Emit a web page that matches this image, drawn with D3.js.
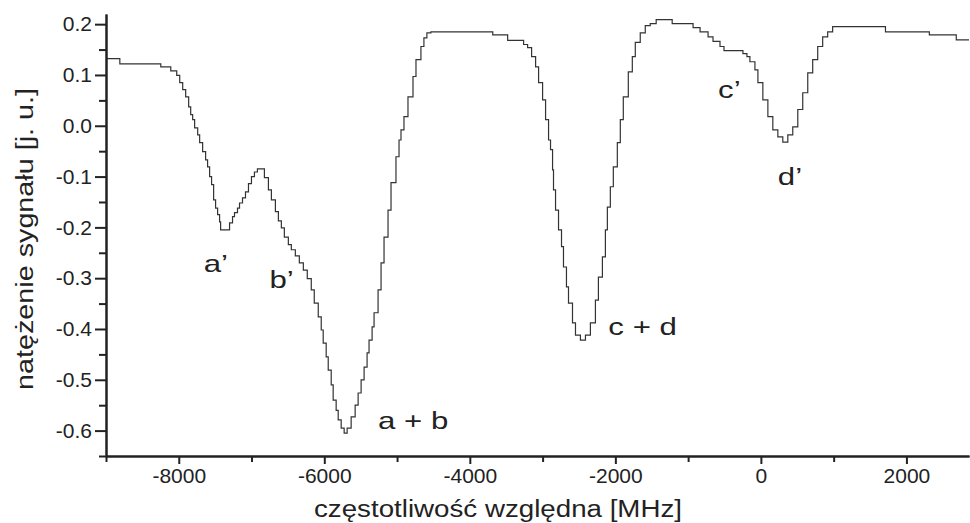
<!DOCTYPE html>
<html lang="pl">
<head>
    <meta charset="UTF-8">
    <title>Widmo</title>
    <style>
        body { margin: 0; background: #fff; }
        text { font-family: "Liberation Sans", Arial, sans-serif; fill: #222; }
        .line { fill: none; stroke: #333; stroke-width: 1.2px; }
        .axis path, .axis line { stroke: #222; stroke-width: 2px; }
        .axis text { font-size: 21px; fill: #222; }
        .title { font-size: 23px; }
        .note { font-size: 24px; }
    </style>
</head>
<body>
<script src="https://d3js.org/d3.v7.min.js"></script>
<script>
const freq = [-9000, -8810, -8247, -8110, -8028, -7987, -7946, -7905, -7864, -7836,
  -7809, -7782, -7740, -7713, -7672, -7631, -7604, -7576, -7549, -7521,
  -7494, -7466, -7439, -7425, -7330, -7302, -7261, -7234, -7193, -7165,
  -7124, -7083, -7042, -7001, -6960, -6919, -6850, -6823, -6768, -6727,
  -6672, -6631, -6590, -6549, -6494, -6453, -6398, -6343, -6288, -6234,
  -6179, -6138, -6083, -6042, -6015, -5974, -5946, -5905, -5878, -5837,
  -5809, -5768, -5727, -5686, -5631, -5576, -5535, -5494, -5453, -5412,
  -5385, -5343, -5316, -5261, -5220, -5179, -5124, -5083, -5015, -4973,
  -4946, -4905, -4850, -4781, -4740, -4672, -4631, -4590, -4535, -3685,
  -3480, -3261, -3206, -3151, -3096, -3055, -3000, -2959, -2918, -2891,
  -2863, -2850, -2822, -2781, -2740, -2713, -2672, -2644, -2589, -2548,
  -2480, -2411, -2343, -2274, -2233, -2178, -2137, -2110, -2069, -2028,
  -1973, -1932, -1891, -1822, -1767, -1726, -1658, -1589, -1521, -1439,
  -1219, -932, -836, -726, -658, -562, -507, -247, -192, -151,
  -82, -41, 27, 96, 164, 233, 301, 370, 438, 507,
  575, 644, 712, 781, 849, 918, 986, 1712, 2315, 2685,
  2860];

const signal = [0.132, 0.122, 0.116, 0.108, 0.099, 0.085, 0.071, 0.057, 0.037, 0.022,
  0.012, -0.004, -0.018, -0.033, -0.051, -0.067, -0.081, -0.100, -0.116, -0.146,
  -0.162, -0.175, -0.189, -0.205, -0.205, -0.191, -0.179, -0.171, -0.162, -0.152,
  -0.142, -0.130, -0.114, -0.100, -0.091, -0.085, -0.085, -0.102, -0.126, -0.146,
  -0.169, -0.187, -0.201, -0.219, -0.234, -0.244, -0.256, -0.270, -0.284, -0.301,
  -0.323, -0.349, -0.376, -0.402, -0.428, -0.455, -0.481, -0.510, -0.540, -0.560,
  -0.579, -0.595, -0.605, -0.595, -0.573, -0.550, -0.526, -0.500, -0.475, -0.447,
  -0.422, -0.396, -0.368, -0.323, -0.270, -0.219, -0.166, -0.112, -0.061, -0.028,
  -0.008, 0.018, 0.057, 0.097, 0.130, 0.156, 0.173, 0.183, 0.185, 0.179,
  0.168, 0.160, 0.154, 0.136, 0.116, 0.085, 0.051, 0.012, -0.028, -0.047,
  -0.087, -0.126, -0.166, -0.205, -0.238, -0.278, -0.317, -0.349, -0.388, -0.412,
  -0.422, -0.412, -0.388, -0.343, -0.298, -0.258, -0.205, -0.160, -0.120, -0.081,
  -0.033, 0.012, 0.057, 0.106, 0.136, 0.164, 0.183, 0.197, 0.201, 0.209,
  0.201, 0.193, 0.185, 0.175, 0.166, 0.156, 0.148, 0.142, 0.136, 0.126,
  0.110, 0.085, 0.051, 0.018, -0.008, -0.022, -0.032, -0.018, -0.002, 0.032,
  0.065, 0.104, 0.130, 0.156, 0.175, 0.185, 0.195, 0.185, 0.179, 0.169,
  0.169];

const xTicks = [-8000, -6000, -4000, -2000, 0, 2000];
const xMinor = [-9000, -7000, -5000, -3000, -1000, 1000];
const yTicks = [-0.6, -0.5, -0.4, -0.3, -0.2, -0.1, 0.0, 0.1, 0.2];
const yMinor = [-0.65, -0.55, -0.45, -0.35, -0.25, -0.15, -0.05, 0.05, 0.15];

// podpisy pików: [tekst, częstotliwość, sygnał]
const notes = [
  ['a\u2019', -7658, -0.288],
  ['b\u2019', -6754, -0.319],
  ['a + b', -5261, -0.597],
  ['c + d', -2096, -0.412],
  ['c\u2019', -589, 0.055],
  ['d\u2019', 233, -0.116],
];

const xLabel = 'częstotliwość względna [MHz]';
const yLabel = 'natężenie sygnału [j. u.]';

const margin = { top: 14, right: 1, bottom: 67, left: 106 };
const width = 970 - margin.left - margin.right;
const height = 523 - margin.top - margin.bottom;

const x = d3.scaleLinear().domain([-9000, 2860]).range([0, width]);
const y = d3.scaleLinear().domain([-0.65, 0.22]).range([height, 0]);

const data = freq.map((f, i) => ({ f: f, s: signal[i] }));

const svg = d3.select('body').append('svg')
  .attr('width', 970)
  .attr('height', 523);

const g = svg.append('g')
  .attr('transform', `translate(${margin.left},${margin.top})`);

const valueline = d3.line()
  .curve(d3.curveStepAfter)
  .x(d => x(d.f))
  .y(d => y(d.s));

g.append('path')
  .datum(data)
  .attr('class', 'line')
  .attr('d', valueline);

// osie - najpierw drobne podziałki
g.append('g')
  .attr('class', 'axis')
  .attr('transform', `translate(0,${height})`)
  .call(d3.axisBottom(x).tickValues(xMinor).tickSize(6).tickSizeOuter(0).tickFormat(''));

g.append('g')
  .attr('class', 'axis')
  .attr('transform', `translate(0,${height})`)
  .call(d3.axisBottom(x).tickValues(xTicks).tickSize(8).tickSizeOuter(0).tickPadding(4)
    .tickFormat(d => String(d)));

g.append('g')
  .attr('class', 'axis')
  .call(d3.axisLeft(y).tickValues(yMinor).tickSize(7).tickSizeOuter(0).tickFormat(''));

g.append('g')
  .attr('class', 'axis')
  .call(d3.axisLeft(y).tickValues(yTicks).tickSize(11).tickSizeOuter(0).tickPadding(3)
    .tickFormat(d => d.toFixed(1)));

// napisy w oryginale są szersze niż Liberation Sans, więc rozciągamy
svg.append('text')
  .attr('class', 'title')
  .attr('x', 314)
  .attr('y', 517)
  .attr('textLength', 368)
  .attr('lengthAdjust', 'spacingAndGlyphs')
  .text(xLabel);

svg.append('text')
  .attr('class', 'title')
  .attr('transform', 'translate(33,390) rotate(-90)')
  .attr('textLength', 302)
  .attr('lengthAdjust', 'spacingAndGlyphs')
  .text(yLabel);

g.selectAll('.note')
  .data(notes)
  .enter().append('text')
  .attr('class', 'note')
  .attr('transform', d => `translate(${x(d[1])},${y(d[2])}) scale(1.3,1)`)
  .text(d => d[0]);
</script>
</body>
</html>
